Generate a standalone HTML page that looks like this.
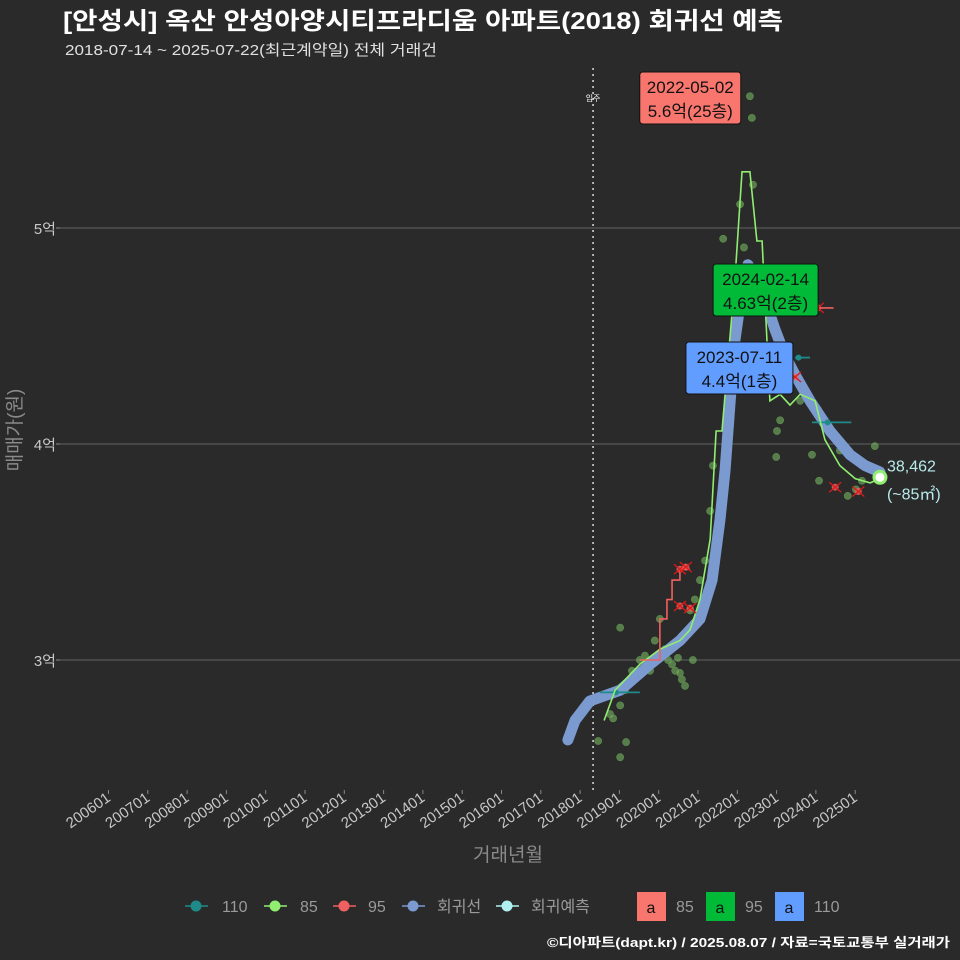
<!DOCTYPE html>
<html><head><meta charset="utf-8">
<style>
body{margin:0;background:#2a2a2a;}
svg{display:block;}
text{font-family:"Liberation Sans","Noto Sans CJK KR",sans-serif;}
</style></head>
<body>
<svg id="chart" width="960" height="960" viewBox="0 0 960 960" xmlns="http://www.w3.org/2000/svg">
<rect x="0" y="0" width="960" height="960" fill="#2a2a2a"/>
<text x="63" y="29" fill="#ffffff" font-size="24" font-weight="bold" textLength="720" lengthAdjust="spacingAndGlyphs">[안성시] 옥산 안성아양시티프라디움 아파트(2018) 회귀선 예측</text>
<text x="65" y="55" fill="#e0e0e0" font-size="15" textLength="372" lengthAdjust="spacingAndGlyphs">2018-07-14 ~ 2025-07-22(최근계약일) 전체 거래건</text>
<g id="grid"></g>
<g id="yaxis"></g>
<g id="xaxis"></g>
<g id="marks"></g>
<text transform="translate(21,430) rotate(-90)" text-anchor="middle" fill="#8a8a8a" font-size="19">매매가(원)</text>
<text x="508" y="861" text-anchor="middle" fill="#8a8a8a" font-size="19">거래년월</text>
<g font-size="16" fill="#9a9a9a">
  <g><line x1="185" y1="906" x2="208" y2="906" stroke="#1f8a8a" stroke-width="1.5"/><circle cx="196" cy="906" r="5.5" fill="#1f8a8a"/><text x="222" y="912">110</text></g>
  <g><line x1="264" y1="906" x2="287" y2="906" stroke="#90ee70" stroke-width="1.5"/><circle cx="275" cy="906" r="5.5" fill="#90ee70"/><text x="300" y="912">85</text></g>
  <g><line x1="333" y1="906" x2="356" y2="906" stroke="#f06060" stroke-width="1.5"/><circle cx="344" cy="906" r="5.5" fill="#f06060"/><text x="368" y="912">95</text></g>
  <g><line x1="402" y1="906" x2="425" y2="906" stroke="#7a9ad0" stroke-width="1.5"/><circle cx="413" cy="906" r="5.5" fill="#7a9ad0"/><text x="437" y="912">회귀선</text></g>
  <g><line x1="496" y1="906" x2="519" y2="906" stroke="#b0f0f0" stroke-width="1.5"/><circle cx="507" cy="906" r="5.5" fill="#b0f0f0"/><text x="531" y="912">회귀예측</text></g>
  <g><rect x="637" y="892" width="29" height="29" fill="#f8766d"/><text x="651" y="913" text-anchor="middle" fill="#111">a</text><text x="676" y="912">85</text></g>
  <g><rect x="706" y="892" width="29" height="29" fill="#00ba38"/><text x="720" y="913" text-anchor="middle" fill="#111">a</text><text x="745" y="912">95</text></g>
  <g><rect x="775" y="892" width="29" height="29" fill="#619cff"/><text x="789" y="913" text-anchor="middle" fill="#111">a</text><text x="814" y="912">110</text></g>
</g>
<text x="950" y="947" text-anchor="end" fill="#ffffff" font-size="13" font-weight="bold" textLength="403" lengthAdjust="spacingAndGlyphs">©디아파트(dapt.kr) / 2025.08.07 / 자료=국토교통부 실거래가</text>
</svg>
<script>
const xTickLabels=["200601","200701","200801","200901","201001","201101","201201","201301","201401","201501","201601","201701","201801","201901","202001","202101","202201","202301","202401","202501"];
const yTicks=[3,4,5];
const yTickLabels=["3억","4억","5억"];
const regT=[2017.69,2017.87,2018.25,2019.02,2019.78,2020.54,2021.05,2021.36,2021.56,2021.69,2021.82,2021.94,2022.12,2022.27,2022.45,2022.70,2022.96,2023.21,2023.47,2023.85,2024.36,2024.87,2025.25,2025.63];
const regV=[2.63,2.72,2.81,2.86,2.98,3.09,3.19,3.37,3.65,3.88,4.20,4.48,4.71,4.83,4.78,4.67,4.53,4.41,4.32,4.20,4.06,3.95,3.90,3.87];
const line85T=[2018.61,2018.89,2019.52,2020.03,2020.54,2020.80,2021.05,2021.31,2021.46,2021.61,2021.74,2021.94,2022.12,2022.32,2022.50,2022.63,2022.73,2022.83,2023.09,2023.34,2023.60,2023.98,2024.23,2024.61,2025.0,2025.38,2025.63];
const line85V=[2.72,2.86,2.98,3.05,3.09,3.14,3.28,3.56,4.06,4.06,4.34,4.76,5.26,5.26,4.94,4.94,4.57,4.20,4.23,4.18,4.23,4.20,4.02,3.90,3.84,3.82,3.84];
const line95T=[2019.52,2019.90,2020.03,2020.21,2020.34,2020.54,2020.80];
const line95V=[3.0,3.0,3.19,3.28,3.37,3.42,3.42];
const pts85T=[2018.46,2018.76,2019.02,2018.84,2019.02,2019.14,2019.27,2019.32,2019.52,2019.65,2019.78,2019.90,2020.03,2020.16,2020.24,2020.34,2020.42,2020.49,2020.54,2020.59,2020.67,2020.75,2020.80,2020.87,2020.92,2021.05,2021.18,2021.31,2021.38,2021.64,2022.07,2022.32,2022.37,2022.40,2022.17,2023.01,2022.99,2023.09,2023.60,2024.05,2023.90,2024.08,2024.61,2024.81,2025.02,2025.17,2025.50,2019.02,2019.17];
const pts85V=[2.625,2.75,2.79,2.73,3.15,2.86,2.91,2.95,3.0,3.02,2.95,3.09,3.19,3.05,3.0,2.98,2.95,3.01,2.94,2.91,2.88,3.14,3.23,3.0,3.28,3.37,3.46,3.69,3.90,4.95,5.11,5.61,5.51,5.20,4.91,4.06,3.94,4.11,4.20,4.16,3.95,3.83,3.97,3.76,3.79,3.83,3.99,2.55,2.62];
const pts95T=[2020.54,2020.69,2020.54,2020.80,2023.47,2024.49,2025.08,2024.05];
const pts95V=[3.42,3.43,3.25,3.24,4.31,3.80,3.78,4.63];
const seg110T0=[2018.5,2023.47,2023.9];
const seg110T1=[2019.52,2023.85,2024.9];
const seg110V=[2.85,4.40,4.10];
const forecastT=[2025.63];
const forecastV=[3.846];
const forecastLabel=["38,462","(~85㎡)"];
const moveInT=[2018.33];
const annT=[2022.33,2024.12,2023.53];
const annV=[5.6,4.63,4.4];
const annDate=["2022-05-02","2024-02-14","2023-07-11"];
const annText=["5.6억(25층)","4.63억(2층)","4.4억(1층)"];
const annColor=["#f8766d","#00ba38","#619cff"];

const NS="http://www.w3.org/2000/svg";
const X0=60,X1=960,Y0=60,Y1=790;
function xs(t){return 108.5+(t-2006)*39.3;}
function ys(v){return 444-(v-4)*216;}
function mk(tag,attrs,parent){const e=document.createElementNS(NS,tag);for(const k in attrs)e.setAttribute(k,attrs[k]);parent.appendChild(e);return e;}
const grid=document.getElementById('grid'),ya=document.getElementById('yaxis'),xa=document.getElementById('xaxis'),m=document.getElementById('marks');
yTicks.forEach((v,i)=>{
  const l=mk('line',{x1:X0,x2:X1,y1:ys(v),y2:ys(v),stroke:'#585858','stroke-width':1.2},grid);
  
  
  const tk=mk('line',{x1:X0-4,x2:X0,y1:ys(v),y2:ys(v),stroke:'#888'},ya);
  
  
  const t=mk('text',{x:56,y:ys(v)+6,'text-anchor':'end',fill:'#c8c8c8','font-size':15},ya);
  t.textContent=yTickLabels[i];
  
  
});
xTickLabels.forEach((s,i)=>{
  const x=xs(2006+i);
  const l=mk('line',{x1:x,x2:x,y1:Y1,y2:Y1+4,stroke:'#888'},xa);
  
  
  const t=mk('text',{transform:`translate(${x+3},${Y1+10}) rotate(-35)`,'text-anchor':'end',fill:'#c8c8c8','font-size':15},xa);
  t.textContent=s;
  
  
});
const mv=mk('line',{x1:xs(moveInT[0]),x2:xs(moveInT[0]),y1:Y0+8,y2:Y1,stroke:'#dddddd','stroke-width':1.5,'stroke-dasharray':'2 4'},m);


const mvt=mk('text',{x:xs(moveInT[0]),y:101,'text-anchor':'middle',fill:'#fff','font-size':8},m);
mvt.textContent='입주';


function path(T,V){return T.map((t,i)=>(i?'L':'M')+xs(t).toFixed(1)+' '+ys(V[i]).toFixed(1)).join(' ');}
function stepPath(T,V){let d='M'+xs(T[0])+' '+ys(V[0]);for(let i=1;i<T.length;i++){d+=' L'+xs(T[i])+' '+ys(V[i-1])+' L'+xs(T[i])+' '+ys(V[i]);}return d;}
pts85T.forEach((t,i)=>{
  const c=mk('circle',{cx:xs(t),cy:ys(pts85V[i]),r:3.5,fill:'#7fbf6a','fill-opacity':0.55,stroke:'#5a8a4a','stroke-width':0.8},m);
  
  
});
const rg=mk('path',{d:path(regT,regV),fill:'none',stroke:'#7a9ad0','stroke-width':11,'stroke-linecap':'round','stroke-linejoin':'round'},m);


seg110T0.forEach((t,i)=>{
  const l=mk('line',{x1:xs(t),x2:xs(seg110T1[i]),y1:ys(seg110V[i]),y2:ys(seg110V[i]),stroke:'#1f8a8a','stroke-width':1.8},m);
  
  
  const c=mk('circle',{cx:(xs(t)+xs(seg110T1[i]))/2-4,cy:ys(seg110V[i]),r:3,fill:'#1f8a8a'},m);
  
  
});
const l85=mk('path',{d:path(line85T,line85V),fill:'none',stroke:'#90ee70','stroke-width':1.6},m);


const l95=mk('path',{d:stepPath(line95T,line95V),fill:'none',stroke:'#f06060','stroke-width':1.6},m);


const d95=mk('line',{x1:xs(2024.05),x2:xs(2024.45),y1:ys(4.63),y2:ys(4.63),stroke:'#f06060','stroke-width':1.6},m);


pts95T.forEach((t,i)=>{
  const x=xs(t),y=ys(pts95V[i]);
  const g=mk('g',{},m);
  
  
  mk('circle',{cx:x,cy:y,r:3.5,fill:'#f06060','fill-opacity':0.8},g);
  mk('path',{d:`M${x-6} ${y-5}L${x+6} ${y+5}M${x-6} ${y+5}L${x+6} ${y-5}`,stroke:'#e01818','stroke-width':1.3},g);
});
forecastT.forEach((t,i)=>{
  const c=mk('circle',{cx:xs(t),cy:ys(forecastV[i]),r:6,fill:'#ffffff',stroke:'#90ee70','stroke-width':3},m);
  
  
  forecastLabel.forEach((s,j)=>{
    const tx=mk('text',{x:xs(t)+7,y:ys(forecastV[i])-6+j*28,fill:'#b8eaea','font-size':16},m);
    tx.textContent=s;
    
    
  });
});
// annotation boxes: layout offsets relative to anchor
const boxW=[101,105,107];
const boxDX=[-60,-55,-58];
const boxTop=[72,264,342];
annT.forEach((t,i)=>{
  const cx=xs(t)+boxDX[i];
  const top=boxTop[i];
  const g=mk('g',{},m);
  
  
  mk('rect',{x:cx-boxW[i]/2,y:top,width:boxW[i],height:52,rx:3,fill:annColor[i],stroke:'#111','stroke-width':1},g);
  const t1=mk('text',{x:cx,y:top+21,'text-anchor':'middle',fill:'#111','font-size':17},g);t1.textContent=annDate[i];
  const t2=mk('text',{x:cx,y:top+45,'text-anchor':'middle',fill:'#111','font-size':17},g);t2.textContent=annText[i];
});
</script>
</body></html>
